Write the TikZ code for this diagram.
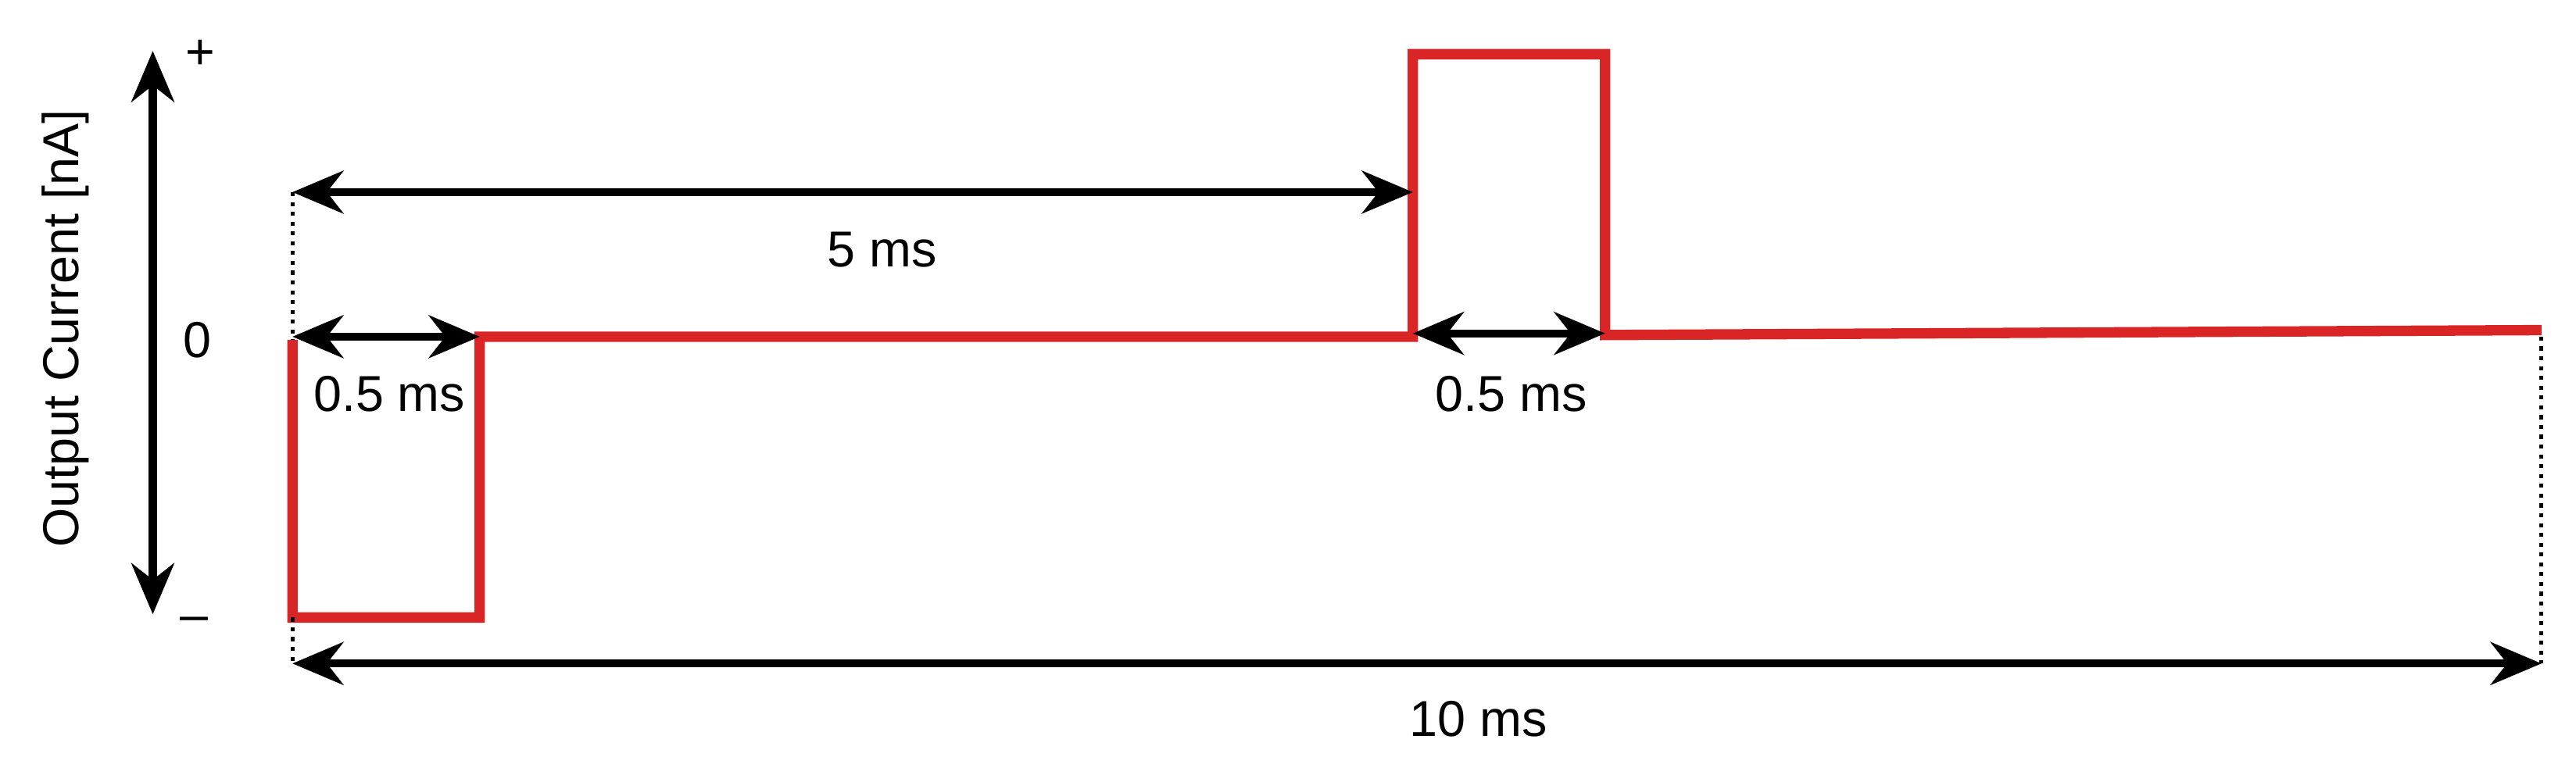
\documentclass[tikz,border=0pt]{standalone}
\usepackage{fontspec}
\setmainfont{Liberation Sans}
\usetikzlibrary{arrows.meta}
\begin{document}
\begin{tikzpicture}[x=0.02cm,y=-0.02cm,
  dim/.style={line width=2.8pt,{Stealth[length=0.62cm,width=0.52cm]}-{Stealth[length=0.62cm,width=0.52cm]}},
  wave/.style={line width=3.6pt,draw={rgb,255:red,218;green,37;blue,39},line join=miter},
  dots/.style={line width=1.4pt,dotted},
  lbl/.style={font=\fontsize{17.5}{20}\selectfont}]
\useasboundingbox (0,0) rectangle (1568,467.6);
\coordinate (a0) at (178,207); \coordinate (a1) at (178,376);
\coordinate (a2) at (292,376); \coordinate (a3) at (292,205);
\coordinate (a4) at (860,205); \coordinate (a5) at (860,33);
\coordinate (a6) at (977,33); \coordinate (a7) at (977,204);
\coordinate (a8) at (1547,201);
\draw[wave] (a0) -- (a1) -- (a2) -- (a3) -- (a4) -- (a5) -- (a6) -- (a7) -- (a8);
\coordinate (d1) at (178,117); \coordinate (d2) at (178,404); \coordinate (d3) at (1547,404);
\coordinate (d4) at (1547,205); \coordinate (d5) at (860,117);
\draw[dots] (d1) -- (a0);
\draw[dots] (a1) -- (d2);
\draw[dots] (d4) -- (d3);
\draw[dim] (d1) -- (d5);
\node[lbl] (t5) at (537,152) {5 ms};
\coordinate (b1) at (178,205); \coordinate (b2) at (292,205);
\draw[dim] (b1) -- (b2);
\node[lbl] (t05a) at (237,240) {0.5 ms};
\coordinate (c1) at (860,203); \coordinate (c2) at (977,203);
\draw[dim] (c1) -- (c2);
\node[lbl] (t05b) at (920,240) {0.5 ms};
\draw[dim] (d2) -- (d3);
\node[lbl] (t10) at (900,438) {10 ms};
\coordinate (y1) at (93,31); \coordinate (y2) at (93,374);
\draw[dim] (y1) -- (y2);
\node[lbl] (plus) at (122,33) {+};
\node[lbl] (minus) at (118,380) {\textendash};
\node[lbl] (zero) at (120,207) {0};
\node[lbl,rotate=90] (ylab) at (40,200) {Output Current [nA]};
\end{tikzpicture}
\end{document}
